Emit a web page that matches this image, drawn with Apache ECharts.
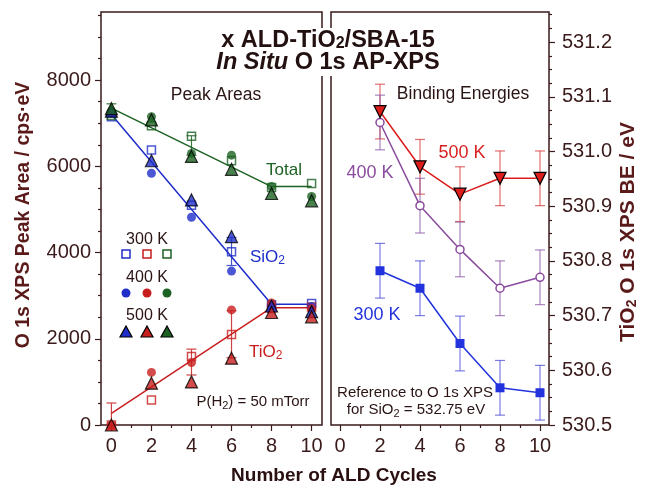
<!DOCTYPE html>
<html>
<head>
<meta charset="utf-8">
<script src="https://cdn.jsdelivr.net/npm/echarts@6/dist/echarts.min.js"></script>
<style>
html, body { margin: 0; padding: 0; background: #fff; }
#main { width: 645px; height: 488px; }
</style>
</head>
<body>
<div id="main"></div>
<script>
// x: number of ALD cycles
var cycles = [0, 2, 4, 6, 8, 10];
var beCycles = [2, 4, 6, 8, 10];

// left panel: O 1s peak areas (cps·eV)
var si300 = [7150, 6380, 5100, 4020, 2790, 2820];
var si400 = [7230, 5840, 4820, 3570, 2780, 2750];
var si500 = [7280, 6130, 5220, 4370, 2760, 2630];
var ti300 = [0, 580, 1590, 2100, 2700, 2740];
var ti400 = [0, 1220, 1450, 2670, 2830, 2700];
var ti500 = [0, 970, 1000, 1550, 2610, 2510];
var tot300 = [7180, 6940, 6700, 6130, 5510, 5600];
var tot400 = [7280, 7150, 6300, 6260, 5530, 5300];
var tot500 = [7340, 7080, 6230, 5930, 5370, 5200];

// fitted lines
var fitX = [0, 8, 10];
var fitTot = [7350, 5530, 5530];
var fitSi = [7200, 2800, 2800];
var fitTi = [270, 2720, 2720];

// error bars [x, low, high]
var errTot = [[0, 7150, 7450], [4, 6260, 6710]];
var errSi = [[6, 3700, 4350]];
var errTi = [[0, 0, 510], [4, 1160, 1760], [6, 1560, 2650]];

// right panel: TiO2 O 1s binding energy (eV)
var be300 = [530.782, 530.750, 530.649, 530.568, 530.559];
var be400 = [531.053, 530.901, 530.821, 530.750, 530.770];
var be500 = [531.073, 530.972, 530.922, 530.951, 530.951];
var beErr = [0.05, 0.05, 0.05, 0.05, 0.05];

// tick labels
var cycleTicks = [0, 2, 4, 6, 8, 10];
var cycleMinor = [1, 3, 5, 7, 9];
var areaTicks = [0, 2000, 4000, 6000, 8000];
var areaMinor = [500, 1000, 1500, 2500, 3000, 3500, 4500, 5000, 5500, 6500, 7000, 7500, 8500, 9000, 9500];
var beTicks = [530.5, 530.6, 530.7, 530.8, 530.9, 531.0, 531.1, 531.2];
var beMinor = [530.525, 530.55, 530.575, 530.625, 530.65, 530.675, 530.725, 530.75, 530.775,
  530.825, 530.85, 530.875, 530.925, 530.95, 530.975, 531.025, 531.05, 531.075,
  531.125, 531.15, 531.175, 531.225, 531.25];

var FONT = 'Liberation Sans';
var INK = '#3a1a1a';
var BLUE = '#1f2ec8', RED = '#c81e1e', GREEN = '#1c6222';

function pts(xs, ys) {
  return xs.map(function (x, i) { return [x, ys[i]]; });
}
function errRows(xs, ys, es) {
  return xs.map(function (x, i) { return [x, ys[i] - es[i], ys[i] + es[i]]; });
}

var myChart = echarts.init(document.getElementById('main'));

function errBars(color, cap) {
  return function (params, api) {
    var x = api.value(0);
    var lo = api.coord([x, api.value(1)]);
    var hi = api.coord([x, api.value(2)]);
    var st = { stroke: color, lineWidth: 1.2 };
    return {
      type: 'group',
      children: [
        { type: 'line', shape: { x1: lo[0], y1: lo[1], x2: hi[0], y2: hi[1] }, style: st },
        { type: 'line', shape: { x1: hi[0] - cap, y1: hi[1], x2: hi[0] + cap, y2: hi[1] }, style: st },
        { type: 'line', shape: { x1: lo[0] - cap, y1: lo[1], x2: lo[0] + cap, y2: lo[1] }, style: st }
      ]
    };
  };
}
function errSeries(data, color, xi, yi) {
  return {
    type: 'custom', xAxisIndex: xi, yAxisIndex: yi, z: 1,
    renderItem: errBars(color, 5),
    encode: { x: 0, y: [1, 2] },
    data: data
  };
}
function fitLine(ys, color) {
  return {
    type: 'line', xAxisIndex: 0, yAxisIndex: 0, data: pts(fitX, ys),
    symbol: 'none', lineStyle: { color: color, width: 1.5 }, z: 2
  };
}
function sq(ys, c) {
  return { type: 'scatter', xAxisIndex: 0, yAxisIndex: 0, data: pts(cycles, ys), symbol: 'rect', symbolSize: 8,
    itemStyle: { color: 'rgba(255,255,255,0)', borderColor: c, borderWidth: 1.5 }, z: 3 };
}
function circ(ys, c) {
  return { type: 'scatter', xAxisIndex: 0, yAxisIndex: 0, data: pts(cycles, ys), symbol: 'circle', symbolSize: 9,
    itemStyle: { color: c }, z: 3 };
}
function tri(ys, c) {
  return { type: 'scatter', xAxisIndex: 0, yAxisIndex: 0, data: pts(cycles, ys), symbol: 'triangle', symbolSize: 12,
    itemStyle: { color: c, borderColor: '#000', borderWidth: 1.2 }, z: 3 };
}

// x axes: main (labels + major ticks) and minor ticks
function xMain(gi, min, max) {
  return {
    type: 'value', gridIndex: gi, min: min, max: max, position: 'bottom',
    axisLine: { show: false, onZero: false },
    axisTick: { show: true, inside: false, length: 6, lineStyle: { color: INK, width: 1.2 }, customValues: cycleTicks },
    axisLabel: { customValues: cycleTicks, margin: 11, color: INK, fontSize: 20, fontFamily: FONT },
    splitLine: { show: false }
  };
}
function xMinor(gi, min, max) {
  return {
    type: 'value', gridIndex: gi, min: min, max: max, position: 'bottom',
    axisLine: { show: false, onZero: false },
    axisTick: { show: true, length: 3, lineStyle: { color: INK, width: 1.2 }, customValues: cycleMinor },
    axisLabel: { show: false }, splitLine: { show: false }
  };
}

function label(x, y, text, color, size, align) {
  return {
    type: 'text', x: x, y: y, z: 50,
    style: {
      text: text, align: align || 'center', verticalAlign: 'middle',
      fill: color, fontSize: size, fontFamily: FONT,
      rich: {
        n: { fontSize: size, lineHeight: size + 3, fontFamily: FONT, fill: color },
        s: { fontSize: Math.round(size * 0.72), lineHeight: 10, verticalAlign: 'bottom', fontFamily: FONT, fill: color }
      }
    }
  };
}

// inline key (300 K / 400 K / 500 K)
var keyX = [126, 147, 167];
var keyColors = [BLUE, RED, GREEN];
var keys = [];
keyX.forEach(function (x, i) {
  keys.push({ type: 'rect', z: 50, shape: { x: x - 4, y: 250, width: 8, height: 8 },
    style: { fill: 'none', stroke: keyColors[i], lineWidth: 1.5 } });
  keys.push({ type: 'circle', z: 50, shape: { cx: x, cy: 293, r: 4.5 }, style: { fill: keyColors[i] } });
  keys.push({ type: 'polygon', z: 50, shape: { points: [[x - 6, 337], [x + 6, 337], [x, 326]] },
    style: { fill: keyColors[i], stroke: '#000', lineWidth: 1.2 } });
});

var option = {
  animation: false,
  backgroundColor: '#fff',
  grid: [
    { left: 101, top: 12, width: 221, height: 413, show: true, borderColor: INK, borderWidth: 1.5, backgroundColor: 'transparent' },
    { left: 331, top: 12, width: 218, height: 413, show: true, borderColor: INK, borderWidth: 1.5, backgroundColor: 'transparent' }
  ],
  xAxis: [xMain(0, -0.52, 10.52), xMain(1, -0.45, 10.45), xMinor(0, -0.52, 10.52), xMinor(1, -0.45, 10.45)],
  yAxis: [
    {
      type: 'value', gridIndex: 0, min: 0, max: 9580, position: 'left',
      axisLine: { show: false, onZero: false },
      axisTick: { show: true, length: 6, lineStyle: { color: INK, width: 1.2 }, customValues: areaTicks },
      axisLabel: { customValues: areaTicks, margin: 10, color: INK, fontSize: 20, fontFamily: FONT,
        formatter: function (v) { return String(v); } },
      splitLine: { show: false }
    },
    {
      type: 'value', gridIndex: 1, min: 530.5, max: 531.255, position: 'right',
      axisLine: { show: false, onZero: false },
      axisTick: { show: true, length: 6, lineStyle: { color: INK, width: 1.2 }, customValues: beTicks },
      axisLabel: { customValues: beTicks, margin: 13, color: INK, fontSize: 20, fontFamily: FONT,
        formatter: function (v) { return v.toFixed(1); } },
      splitLine: { show: false }
    },
    {
      type: 'value', gridIndex: 0, min: 0, max: 9580, position: 'left',
      axisLine: { show: false, onZero: false },
      axisTick: { show: true, length: 3, lineStyle: { color: INK, width: 1.2 }, customValues: areaMinor },
      axisLabel: { show: false }, splitLine: { show: false }
    },
    {
      type: 'value', gridIndex: 1, min: 530.5, max: 531.255, position: 'right',
      axisLine: { show: false, onZero: false },
      axisTick: { show: true, length: 3, lineStyle: { color: INK, width: 1.2 }, customValues: beMinor },
      axisLabel: { show: false }, splitLine: { show: false }
    }
  ],
  series: [
    errSeries(errTot, '#3d7a40', 0, 0),
    errSeries(errSi, '#4455cc', 0, 0),
    errSeries(errTi, '#cc4444', 0, 0),
    fitLine(fitTot, GREEN),
    fitLine(fitSi, BLUE),
    fitLine(fitTi, RED),
    sq(si300, BLUE), sq(ti300, RED), sq(tot300, GREEN),
    circ(si400, BLUE), circ(ti400, RED), circ(tot400, GREEN),
    tri(si500, BLUE), tri(ti500, RED), tri(tot500, GREEN),

    errSeries(errRows(beCycles, be500, beErr), 'rgba(215,60,60,0.75)', 1, 1),
    errSeries(errRows(beCycles, be400, beErr), 'rgba(140,90,165,0.75)', 1, 1),
    errSeries(errRows(beCycles, be300, beErr), 'rgba(80,80,215,0.75)', 1, 1),
    {
      type: 'line', xAxisIndex: 1, yAxisIndex: 1, data: pts(beCycles, be400), z: 3,
      symbol: 'circle', symbolSize: 8, lineStyle: { color: '#8a4a9e', width: 1.5 },
      itemStyle: { color: '#fff', borderColor: '#8a4a9e', borderWidth: 1.5 }
    },
    {
      type: 'line', xAxisIndex: 1, yAxisIndex: 1, data: pts(beCycles, be300), z: 3,
      symbol: 'rect', symbolSize: 9, lineStyle: { color: '#2233dd', width: 1.5 },
      itemStyle: { color: '#2233dd' }
    },
    {
      type: 'line', xAxisIndex: 1, yAxisIndex: 1, data: pts(beCycles, be500), z: 4,
      symbol: 'triangle', symbolRotate: 180, symbolSize: 12, lineStyle: { color: '#dd1c1c', width: 1.5 },
      itemStyle: { color: '#dd1c1c', borderColor: '#000', borderWidth: 1.2 }
    }
  ],
  graphic: [
    {
      type: 'text', x: 328, y: 52, z: 100,
      style: {
        text: '{b|x ALD-TiO}{s|2}{b|/SBA-15}\n{i|In Situ}{b| O 1s AP-XPS}',
        align: 'center', verticalAlign: 'middle', backgroundColor: '#fff', padding: [2, 4, 2, 4],
        rich: {
          b: { fontFamily: FONT, fontWeight: 'bold', fontSize: 23.5, lineHeight: 22, fill: '#231010' },
          i: { fontFamily: FONT, fontWeight: 'bold', fontStyle: 'italic', fontSize: 23.5, lineHeight: 22, fill: '#231010' },
          s: { fontFamily: FONT, fontWeight: 'bold', fontSize: 16, lineHeight: 10, verticalAlign: 'bottom', fill: '#231010' }
        }
      }
    },
    {
      type: 'text', x: 24, y: 215, z: 50, rotation: Math.PI / 2,
      style: { text: 'O 1s XPS Peak Area / cps\u00b7eV', align: 'center', verticalAlign: 'middle',
        fontFamily: FONT, fontWeight: 'bold', fontSize: 19.5, fill: '#5a1a1a' }
    },
    {
      type: 'text', x: 628, y: 232, z: 50, rotation: Math.PI / 2,
      style: {
        text: '{b|TiO}{s|2}{b| O 1s XPS BE / eV}', align: 'center', verticalAlign: 'middle',
        rich: {
          b: { fontFamily: FONT, fontWeight: 'bold', fontSize: 21, lineHeight: 22, fill: '#5a1a1a' },
          s: { fontFamily: FONT, fontWeight: 'bold', fontSize: 14, lineHeight: 10, verticalAlign: 'bottom', fill: '#5a1a1a' }
        }
      }
    },
    {
      type: 'text', x: 334, y: 476, z: 50,
      style: { text: 'Number of ALD Cycles', align: 'center', verticalAlign: 'middle',
        fontFamily: FONT, fontWeight: 'bold', fontSize: 19, fill: '#2a1010' }
    },
    label(216, 95, '{n|Peak Areas}', '#2a1414', 17.5),
    label(463, 94, '{n|Binding Energies}', '#2a1414', 17.5),
    label(284, 170, '{n|Total}', GREEN, 17),
    label(250, 257, '{n|SiO}{s|2}', BLUE, 17, 'left'),
    label(249, 352, '{n|TiO}{s|2}', RED, 17, 'left'),
    label(147, 240, '{n|300 K}', '#2a1414', 16),
    label(147, 278, '{n|400 K}', '#2a1414', 16),
    label(147, 316, '{n|500 K}', '#2a1414', 16),
    label(253, 402, '{n|P(H}{s|2}{n|) = 50 mTorr}', '#2a1414', 15),
    label(462, 153, '{n|500 K}', '#d81e1e', 18),
    label(370, 173, '{n|400 K}', '#8a4a9e', 18),
    label(377, 315, '{n|300 K}', '#2233dd', 18),
    label(415, 393, '{n|Reference to O 1s XPS}', '#2a1414', 15),
    label(416, 410, '{n|for SiO}{s|2}{n| = 532.75 eV}', '#2a1414', 15)
  ].concat(keys)
};

myChart.setOption(option);
</script>
</body>
</html>
